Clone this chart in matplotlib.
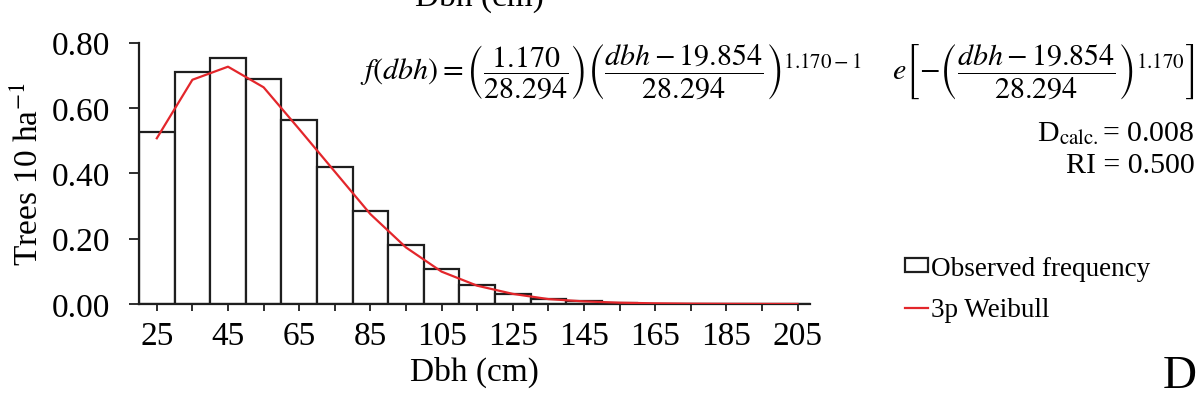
import matplotlib
matplotlib.use("Agg")
import matplotlib.pyplot as plt
import numpy as np

# === DATA ===
dbh_classes = [25, 35, 45, 55, 65, 75, 85, 95, 105, 115, 125, 135, 145, 155, 165, 175, 185, 195, 205]
observed = [0.525, 0.711, 0.752, 0.688, 0.563, 0.418, 0.285, 0.180, 0.107, 0.058,
            0.031, 0.015, 0.010, 0.003, 0.001, 0.0, 0.0, 0.0, 0.0]
weibull = [0.507, 0.686, 0.726, 0.663, 0.535, 0.405, 0.275, 0.173, 0.099, 0.056,
           0.031, 0.015, 0.008, 0.004, 0.002, 0.001, 0.0005, 0.0002, 0.0001]
tick_labels = [str(v) if i % 2 == 0 else "" for i, v in enumerate(dbh_classes)]
y_ticks = [0.0, 0.2, 0.4, 0.6, 0.8]

# === STYLE ===
plt.rcParams["font.family"] = ["Liberation Serif", "DejaVu Serif"]
plt.rcParams["mathtext.fontset"] = "stix"
RED = "#e3262b"
EDGE = "#1e1e1e"
W, H = 1201, 402

fig = plt.figure(figsize=(W / 100, H / 100), dpi=100)
ax = fig.add_axes([139 / W, (H - 305) / H, (810 - 139) / W, (305 - 43.5) / H])

bars = ax.bar(dbh_classes, observed, width=10, color="white", edgecolor=EDGE,
              linewidth=1.6, label="Observed frequency", zorder=2)
line, = ax.plot(dbh_classes, weibull, color=RED, linewidth=1.6, label="3p Weibull", zorder=3)

ax.set_xlim(20, 208.5)
ax.set_ylim(0, 0.8)
ax.set_xticks(dbh_classes)
ax.set_xticklabels(tick_labels)
ax.set_yticks(y_ticks)
ax.set_yticklabels([f"{v:.2f}" for v in y_ticks])

for s in ["top", "right"]:
    ax.spines[s].set_visible(False)
for s in ["left", "bottom"]:
    ax.spines[s].set_linewidth(1.6)
    ax.spines[s].set_color(EDGE)

ax.tick_params(axis="x", direction="out", length=5, width=1.3, color=EDGE,
               labelsize=24, pad=7)
ax.tick_params(axis="y", direction="out", length=7.5, width=1.3, color=EDGE,
               labelsize=24, pad=13)

ax.set_xlabel("Dbh (cm)", fontsize=24, labelpad=3)
ax.set_ylabel("Trees 10 ha$^{-1}$", fontsize=24)
ax.yaxis.set_label_coords(-0.14, 0.5)

# cropped axis title from panel above
fig.text(479 / W, 1 - 6 / H, "Dbh (cm)", fontsize=24, ha="center", va="baseline")

# equation
eq = (r"$f(dbh) = \left(\dfrac{1.170}{28.294}\right)\left(\dfrac{dbh - 19.854}{28.294}\right)^{1.170-1}"
      r"\quad\ e\left[-\left(\dfrac{dbh - 19.854}{28.294}\right)^{1.170}\right]$")
eq_txt = fig.text(1195 / W, 1 - 72 / H, eq, fontsize=20, ha="right", va="center")
fig.canvas.draw()
bb = eq_txt.get_window_extent()
eq_txt.set_fontsize(20 * 830 / bb.width)

fig.text(1195 / W, 1 - 134 / H, r"D$_{\rm calc.}$= 0.008", fontsize=21.5, ha="right", va="center")
fig.text(1195 / W, 1 - 166 / H, "RI = 0.500", fontsize=21.5, ha="right", va="center")

fig.legend([bars, line], ["Observed frequency", "3p Weibull"], loc="upper left",
           bbox_to_anchor=(905 / W, 1 - 257 / H), frameon=False, fontsize=19.5,
           handlelength=0.85, handleheight=0.4, handletextpad=0.1, labelspacing=0.6,
           borderpad=0, borderaxespad=0)

fig.text(1197 / W, 1 - 388 / H, "D", fontsize=34, ha="right", va="baseline")

fig.savefig("out.png", dpi=100)
